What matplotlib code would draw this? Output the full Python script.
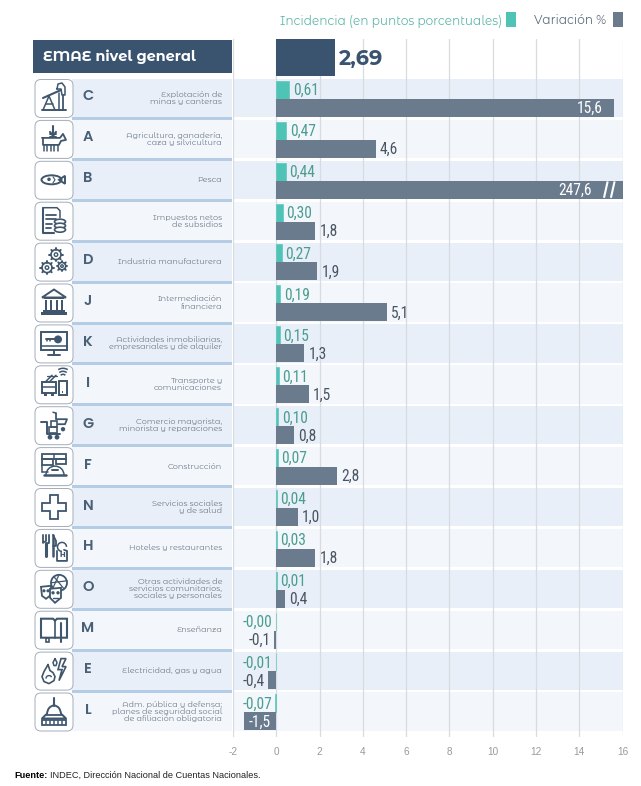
import numpy as np
import matplotlib
matplotlib.use("Agg")
import matplotlib.pyplot as plt
from matplotlib.patches import FancyBboxPatch, Circle, Ellipse, Rectangle, Arc, Polygon
import logging
logging.getLogger("matplotlib.font_manager").setLevel(logging.ERROR)

W, H = 641, 786
letters = ["C", "A", "B", "", "D", "J", "K", "I", "G", "F", "N", "H", "O", "M", "E", "L"]
sectors = ["Explotación de\nminas y canteras", "Agricultura, ganadería,\ncaza y silvicultura", "Pesca",
           "Impuestos netos\nde subsidios", "Industria manufacturera", "Intermediación\nfinanciera",
           "Actividades inmobiliarias,\nempresariales y de alquiler", "Transporte y\ncomunicaciones",
           "Comercio mayorista,\nminorista y reparaciones", "Construcción", "Servicios sociales\ny de salud",
           "Hoteles y restaurantes", "Otras actividades de\nservicios comunitarios,\nsociales y personales",
           "Enseñanza", "Electricidad, gas y agua",
           "Adm. pública y defensa;\nplanes de seguridad social\nde afiliación obligatoria"]
incidencia = [0.61, 0.47, 0.44, 0.30, 0.27, 0.19, 0.15, 0.11, 0.10, 0.07, 0.04, 0.03, 0.01, -0.004, -0.01, -0.07]
variacion = [15.6, 4.6, 247.6, 1.8, 1.9, 5.1, 1.3, 1.5, 0.8, 2.8, 1.0, 1.8, 0.4, -0.1, -0.4, -1.5]
general = 2.69
xticks = list(range(-2, 17, 2))

TEAL, SLATE, NAVY = "#4fc3b5", "#6b7b8e", "#3a5470"
INK = "#3f566d"
BAND_A, BAND_B = "#e8eff8", "#f3f7fb"
ALT = ["Montserrat Alternates", "Inter", "DejaVu Sans"]
GEO = ["Poppins", "Lato", "DejaVu Sans"]
NARROW = ["Roboto Condensed", "Roboto", "DejaVu Sans"]
PITCH, C0 = 40.9, 98.0

fig = plt.figure(figsize=(W / 100, H / 100), dpi=100, facecolor="white")
panel = fig.add_axes([0, 0, 1, 1], zorder=0)
panel.set_xlim(0, W); panel.set_ylim(H, 0); panel.axis("off")

top_px, bot_px, left_px, right_px = 39.0, 737.0, 233.0, 622.6
ax = fig.add_axes([left_px / W, 1 - bot_px / H, (right_px - left_px) / W, (bot_px - top_px) / H], zorder=1)
ax.patch.set_alpha(0)
ax.set_xlim(-2, 16)
ax.set_ylim((bot_px - C0) / PITCH, (top_px - C0) / PITCH)
for s in ax.spines.values():
    s.set_visible(False)
rows = np.arange(len(letters))

# bands and grid
for i in rows:
    ax.axhspan(i - 0.465, i + 0.47, color=BAND_A if i % 2 == 0 else BAND_B, lw=0, zorder=0)
ax.set_xticks(xticks)
ax.set_xticklabels([str(t) for t in xticks], fontsize=7.2, color="#9a9a9a", family=["Liberation Sans"])
ax.tick_params(axis="x", length=0, pad=7)
ax.set_yticks([])
ax.grid(axis="x", color="#d8dbe0", lw=0.9, zorder=1)
ax.set_axisbelow(False)
for l in ax.get_xgridlines():
    l.set_zorder(1)

BAR_H = 18 / PITCH
SHIFT = 0.8 / PITCH
ax.barh(rows - BAR_H / 2 + SHIFT, incidencia, height=BAR_H, color=TEAL, edgecolor=TEAL, lw=0.4, zorder=3)
ax.barh(rows + BAR_H / 2 + SHIFT, variacion, height=BAR_H, color=SLATE, lw=0, zorder=3)
ax.barh([-1], [general], height=37 / PITCH, color=NAVY, lw=0, zorder=3)
ax.annotate(f"{general:.2f}".replace(".", ","), (general, -1), xytext=(2.5, -1), textcoords="offset points",
            ha="left", va="center", fontsize=15, fontweight="bold", color=NAVY, family=ALT, zorder=5)

VAL = 11.2
DY = -0.6
for i, (a, b) in enumerate(zip(incidencia, variacion)):
    ya = i - BAR_H / 2 + SHIFT
    yb = i + BAR_H / 2 + SHIFT
    ta = f"{a:.2f}".replace(".", ",")
    tb = f"{b:.1f}".replace(".", ",")
    if a >= 0:
        ax.annotate(ta, (a, ya), xytext=(2.4, DY), textcoords="offset points", ha="left", va="center",
                    fontsize=VAL, color="#4a9d90", family=NARROW, zorder=5)
    else:
        ax.annotate(ta, (0, ya), xytext=(-2.6, DY), textcoords="offset points", ha="right", va="center",
                    fontsize=VAL, color="#4a9d90", family=NARROW, zorder=5)
    if b > 16:
        ax.annotate(tb, (16, yb), xytext=(-22, DY), textcoords="offset points", ha="right", va="center",
                    fontsize=VAL, color="white", family=NARROW, zorder=5)
    elif b > 15:
        ax.annotate(tb, (b, yb), xytext=(-8, DY), textcoords="offset points", ha="right", va="center",
                    fontsize=VAL, color="white", family=NARROW, zorder=5)
    elif b <= -1:
        ax.annotate(tb, (0, yb), xytext=(-4, DY), textcoords="offset points", ha="right", va="center",
                    fontsize=VAL, color="white", family=NARROW, zorder=5)
    elif b < 0:
        ax.annotate(tb, (b, yb), xytext=(-2.2, DY), textcoords="offset points", ha="right", va="center",
                    fontsize=VAL, color="#4a5564", family=NARROW, zorder=5)
    else:
        ax.annotate(tb, (b, yb), xytext=(3, DY), textcoords="offset points", ha="left", va="center",
                    fontsize=VAL, color="#4a5564", family=NARROW, zorder=5)

# break marks on the off-scale bar
yb2 = 2 + BAR_H / 2 + SHIFT
for x0 in (15.14, 15.46):
    ax.plot([x0, x0 + 0.17], [yb2 + BAR_H / 2 - 0.02, yb2 - BAR_H / 2 + 0.02], color="white", lw=1.5, zorder=4,
            solid_capstyle="butt")

# legend
panel.text(280, 21, "Incidencia (en puntos porcentuales)", fontsize=8.7, color="#62b8aa", family=ALT, va="center")
panel.add_patch(Rectangle((506, 12), 10, 15, color=TEAL, lw=0))
panel.text(534, 21, "Variación %", fontsize=8.7, color="#5f6e80", family=ALT, va="center")
panel.add_patch(Rectangle((613, 12), 10, 15, color=SLATE, lw=0))

# header
panel.add_patch(Rectangle((33, 40), 199, 33, color=NAVY, lw=0))
panel.text(43, 57, "EMAE nivel general", fontsize=10.4, fontweight="bold", color="white", family=ALT, va="center")


# ---- icons ----
def line(cx, cy, pts, closed=False, lw=1.1, fill=False):
    xs = [cx + p[0] for p in pts]
    ys = [cy + p[1] for p in pts]
    if closed or fill:
        panel.add_patch(Polygon(list(zip(xs, ys)), closed=True, fill=fill, facecolor=INK if fill else "none",
                                edgecolor=INK, lw=lw, zorder=4))
    else:
        panel.plot(xs, ys, color=INK, lw=lw, zorder=4, solid_capstyle="round", solid_joinstyle="round")


def circ(cx, cy, x, y, r, lw=1.1, fill=False):
    panel.add_patch(Circle((cx + x, cy + y), r, fill=fill, facecolor=INK if fill else "none", edgecolor=INK, lw=lw, zorder=4))


def rect(cx, cy, x, y, w, h, lw=1.1, fill=False):
    panel.add_patch(Rectangle((cx + x, cy + y), w, h, fill=fill, facecolor=INK if fill else "none", edgecolor=INK, lw=lw, zorder=4))


def arc(cx, cy, x, y, w, h, a, b, lw=1.1):
    panel.add_patch(Arc((cx + x, cy + y), w, h, theta1=a, theta2=b, color=INK, lw=lw, zorder=4))


def gear(cx, cy, x, y, r):
    circ(cx, cy, x, y, r, lw=1.2)
    circ(cx, cy, x, y, r * 0.35, lw=1.0)
    for t in np.arange(0, 2 * np.pi, np.pi / 4):
        line(cx, cy, [(x + r * np.cos(t), y + r * np.sin(t)), (x + (r + 1.6) * np.cos(t), y + (r + 1.6) * np.sin(t))], lw=1.4)


def i_c(c, y):
    line(c, y, [(-12, 12), (12, 12)], lw=1.4); line(c, y, [(-11, 12), (-5, -2), (1, 12)])
    line(c, y, [(-8, 6), (-1, 6)]); line(c, y, [(-11, 0), (7, -8)], lw=1.5)
    line(c, y, [(9, -3), (9, 12)], lw=1.3); line(c, y, [(5, 12), (5, -5)])
    line(c, y, [(3, -9), (4, -14), (8, -15), (11, -11), (11, -3), (8, -3), (7, -9), (3, -9)])


def i_a(c, y):
    line(c, y, [(-12, -1), (6, -1), (9, -5), (12, 1), (7, 2), (5, 6), (-11, 6), (-11, -1)], lw=1.3)
    for x in (-10, -7, -3, 0, 4):
        line(c, y, [(x, 6), (x, 12)])
    line(c, y, [(-1, -13), (-1, -3)], lw=1.5); line(c, y, [(-4, -7), (-1, -3), (2, -7)], lw=1.5)
    line(c, y, [(-4, -5), (2, -5)], lw=1.4); line(c, y, [(-4, -2), (2, -2)], lw=1.4)


def i_b(c, y):
    panel.add_patch(Ellipse((c - 2.5, y), 20, 9, fill=False, edgecolor=INK, lw=1.4, zorder=4))
    line(c, y, [(5, 0), (11, -4), (11, 4)], closed=True, lw=1.4)
    circ(c, y, -5, -0.5, 1, fill=True)
    line(c, y, [(-1, -3), (1, 0), (-1, 3)], lw=0.8)


def i_imp(c, y):
    line(c, y, [(-11, -13), (3, -13), (6, -10), (6, -3)]); line(c, y, [(-11, -13), (-11, 12), (0, 12)], lw=1.5)
    for yy, x2 in ((-6, 2), (-2, 2), (3, -2), (7, -3)):
        line(c, y, [(-8, yy), (x2, yy)], lw=1.3)
    for yy in (1, 5, 9):
        panel.add_patch(Ellipse((c + 6, y + yy), 11, 5, facecolor="white", edgecolor=INK, lw=1.2, zorder=4))


def i_d(c, y):
    gear(c, y, 2, -7, 5); gear(c, y, -7, 6, 5); gear(c, y, 8, 4.5, 3.7)


def i_j(c, y):
    line(c, y, [(-12, -5), (0, -13), (12, -5)], closed=True, lw=1.4)
    for x in (-8, -3, 3, 8):
        rect(c, y, x - 1, -3, 2, 11, lw=0, fill=True)
    rect(c, y, -11, 7, 22, 2, lw=0, fill=True); rect(c, y, -13, 9.5, 26, 3, lw=0, fill=True)
    rect(c, y, -10, -5, 20, 1.5, lw=0, fill=True)


def i_k(c, y):
    rect(c, y, -13, -11, 26, 18, lw=1.4); line(c, y, [(-13, 3), (13, 3)])
    line(c, y, [(0, 7), (0, 12)], lw=1.4); line(c, y, [(-6, 12), (6, 12)], lw=1.4)
    circ(c, y, 4, -4, 3.2, fill=True); line(c, y, [(-8, -4), (2, -4)], lw=1.4); line(c, y, [(-7, -4), (-7, -2)]); line(c, y, [(-4, -4), (-4, -2)])


def i_i(c, y):
    rect(c, y, -12, -2, 14, 11, lw=1.4); rect(c, y, 5, -3, 8, 14, lw=1.4)
    line(c, y, [(-12, 3), (2, 3)]); rect(c, y, -10, 9, 3, 3, lw=0, fill=True); rect(c, y, -3, 9, 3, 3, lw=0, fill=True)
    line(c, y, [(-9, -2), (-2, -9)]); line(c, y, [(-5, -2), (2, -9)]); line(c, y, [(-7, -8), (3, -8)], lw=0.9)
    arc(c, y, 9, -7, 6, 6, 220, 320); arc(c, y, 9, -8, 11, 10, 225, 315); arc(c, y, 9, -9, 16, 14, 230, 310)
    rect(c, y, 8, 7, 1.4, 2, lw=0, fill=True)


def i_g(c, y):
    line(c, y, [(-13, -3), (-7, -3), (-7, 9), (6, 9)], lw=1.4)
    rect(c, y, -5, 2, 8, 6, lw=1.2); rect(c, y, -3, -4, 6, 6, lw=1.2)
    line(c, y, [(2, -12), (2, -6), (13, -6), (11, -1), (4, -1)], lw=1.3); line(c, y, [(-1, -13), (2, -12)])
    circ(c, y, -4, 12, 1.6, fill=True); circ(c, y, 3, 12, 1.6, fill=True); circ(c, y, 9, 4, 1.4, fill=True)


def i_f(c, y):
    rect(c, y, -12, -12, 24, 5, lw=1.3); rect(c, y, -12, -7, 11, 6, lw=1.3); rect(c, y, 2, -7, 10, 5, lw=1.3)
    line(c, y, [(-12, -1), (-12, 6)]); line(c, y, [(-12, 6), (-6, 6)]); line(c, y, [(0, -12), (0, -7)])
    arc(c, y, 1, 9, 18, 18, 180, 360); line(c, y, [(-10, 9), (12, 9)], lw=1.8); line(c, y, [(-2, 4), (4, 4)], lw=1.4)


def i_n(c, y):
    line(c, y, [(-4, -12), (4, -12), (4, -4), (12, -4), (12, 4), (4, 4), (4, 12), (-4, 12), (-4, 4), (-12, 4), (-12, -4), (-4, -4)], closed=True, lw=1.3)


def i_h(c, y):
    line(c, y, [(-8, -13), (-8, -7), (-11, -5), (-11, -13)], lw=1.3); line(c, y, [(-5, -13), (-5, -5), (-8, -4)], lw=1.3)
    line(c, y, [(-8, -5), (-8, 8)], lw=2.2); line(c, y, [(-1, -13), (-1, 8)], lw=1.8); line(c, y, [(-1, -13), (2, -7), (2, -2), (-1, -2)], lw=1.3)
    arc(c, y, 8, -1, 9, 9, 90, 360); line(c, y, [(3, 3), (3, 13), (13, 13), (13, 3), (10, 2)], lw=1.3)
    panel.text(c + 8, y + 8, "H", fontsize=5.5, color=INK, ha="center", va="center", fontweight="bold", family=GEO, zorder=5)


def i_o(c, y):
    circ(c, y, 5, -6, 8, lw=1.3)
    line(c, y, [(0, -12), (10, 0)], lw=0.9); line(c, y, [(5, -14), (-1, -1)], lw=0.9); line(c, y, [(-3, -6), (13, -8)], lw=0.9)
    line(c, y, [(-13, -2), (-3, -3), (-3, 6), (-8, 10), (-12, 7)], closed=True, lw=1.3)
    panel.add_patch(Polygon([(c - 4, y), (c + 7, y - 1), (c + 7, y + 9), (c + 1, y + 14), (c - 4, y + 9)], facecolor="white", edgecolor=INK, lw=1.3, zorder=4))
    for x, yy in ((-10, 2), (-6, 2)):
        circ(c, y, x, yy, 0.8, fill=True)
    circ(c, y, -1, 4, 0.9, fill=True); circ(c, y, 4, 4, 0.9, fill=True); line(c, y, [(-1, 9), (4, 9)], lw=1.0)


def i_m(c, y):
    line(c, y, [(-13, -11), (-1, -11), (1, -9), (3, -11), (13, -11), (13, 8), (-13, 8)], closed=True, lw=1.5)
    line(c, y, [(1, -9), (1, 8)], lw=1.2); line(c, y, [(7, -7), (7, 12)], lw=1.5); rect(c, y, -8, 8, 3, 4, lw=1.2)


def i_e(c, y):
    line(c, y, [(-6, -6), (-4, 0), (-1, 2), (1, 6), (0, 10), (-5, 13), (-10, 11), (-12, 6), (-10, 1), (-6, -6)], lw=1.2)
    arc(c, y, -5, 8, 6, 6, 180, 330, lw=1.0)
    line(c, y, [(1, -12), (3, -8), (2, -5), (0, -5), (-1, -8), (1, -12)], lw=1.1)
    line(c, y, [(7, -12), (4, -1), (8, -1), (5, 10), (12, -4), (8, -4), (12, -12)], closed=True, lw=1.2)


def i_l(c, y):
    line(c, y, [(0, -14), (0, -6)], lw=1.5); arc(c, y, 0, 3, 14, 18, 180, 360, lw=1.4); line(c, y, [(-8, 3), (8, 3)], lw=1.3)
    line(c, y, [(-8, 3), (-12, 7), (12, 7), (8, 3)], lw=1.4); rect(c, y, -12, 8, 24, 5, lw=1.3)
    for x in (-8, -4, 0, 4, 8):
        line(c, y, [(x, 9), (x, 12)], lw=1.1)


icons = [i_c, i_a, i_b, i_imp, i_d, i_j, i_k, i_i, i_g, i_f, i_n, i_h, i_o, i_m, i_e, i_l]

for i in rows:
    cy = C0 + PITCH * i
    panel.add_patch(Rectangle((72, cy - 19), 160, 38, color=BAND_A if i % 2 == 0 else BAND_B, lw=0, zorder=1))
    if i < 15:
        panel.add_patch(Rectangle((72, cy + 19), 160, 3, color="#b4cde4", lw=0, zorder=2))
    panel.add_patch(FancyBboxPatch((35, cy - 18.5), 38, 38, boxstyle="round,pad=0,rounding_size=6",
                                   facecolor="white", edgecolor="#a3adb9", lw=0.7, zorder=3))
    icons[i](54, cy)
    if letters[i]:
        panel.text(88, cy - 1, letters[i], fontsize=10.5, fontweight="semibold", color="#4a6076", ha="center", va="center", family=GEO)
    panel.text(222, cy, sectors[i], fontsize=5.85, color="#707d8b", ha="right", va="center", family=ALT,
               linespacing=1.02, multialignment="right")

# footer
t = panel.text(14, 775, "Fuente:", fontsize=6.6, fontweight="bold", color="black", family=["Liberation Sans"], va="center")
fig.canvas.draw()
bb = t.get_window_extent()
panel.text(bb.x1 + 2.2, 775, "INDEC, Dirección Nacional de Cuentas Nacionales.", fontsize=6.6, color="#222222",
           family=["Liberation Sans"], va="center")

fig.savefig("out.png", dpi=100)
